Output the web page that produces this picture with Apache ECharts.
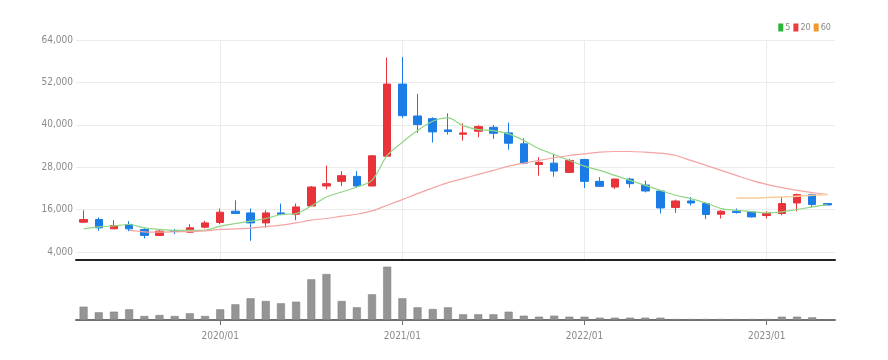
<!DOCTYPE html>
<html><head><meta charset="utf-8">
<script src="https://cdn.jsdelivr.net/npm/echarts@6/dist/echarts.min.js"></script>
<style>html,body{margin:0;padding:0;background:#fff}#c{width:888px;height:360px}</style>
</head><body><div id="c"></div>
<script>
const categories = ['2019/04','2019/05','2019/06','2019/07','2019/08','2019/09','2019/10','2019/11','2019/12',
'2020/01','2020/02','2020/03','2020/04','2020/05','2020/06','2020/07','2020/08','2020/09','2020/10','2020/11','2020/12',
'2021/01','2021/02','2021/03','2021/04','2021/05','2021/06','2021/07','2021/08','2021/09','2021/10','2021/11','2021/12',
'2022/01','2022/02','2022/03','2022/04','2022/05','2022/06','2022/07','2022/08','2022/09','2022/10','2022/11','2022/12',
'2023/01','2023/02','2023/03','2023/04','2023/05'];
const openP  = [12450,13210,10560,11800,10390,8700,10110,9630,11040,12370,15550,15070,12250,15070,14700,17040,22680,24000,25410,22680,31130,51520,42500,41750,38560,37330,38180,39300,37720,34620,28790,29160,26540,30200,24000,22400,24650,22960,21270,16590,18450,17720,14700,15550,15350,14340,14900,17890,20250,17720];
const closeP = [13210,10850,11520,10560,8700,9920,9830,10850,12250,15270,14900,12250,15070,14600,16760,22400,23350,25610,22680,31240,51520,42590,40060,38000,38090,37720,39490,37610,34790,29160,29350,26900,29920,24000,22590,24650,23350,21270,16480,18450,17890,14620,15550,15180,13940,14900,17720,20250,17440,17330];
const lowP   = [12400,10000,10500,9920,7860,8500,9070,9550,10680,11890,14900,7180,10850,14420,13010,17040,21750,22680,22230,22680,31130,41940,37720,34990,37240,35550,36480,36030,32930,28790,25610,25320,26350,22110,22400,21830,22230,20900,14900,15070,17160,13300,13500,14900,13780,13500,14420,15550,16590,17240];
const highP  = [15830,13780,13010,12730,10850,10200,10560,11890,12820,16310,18650,16310,15830,17720,17720,22680,28420,26900,26900,31420,59010,59210,48700,42120,43240,40420,39860,39970,40620,36200,30850,31800,30280,30280,25210,24800,25040,24200,21470,18850,19580,18000,15830,16310,15550,15550,19580,20540,20540,17890];
const ma5  = [10560,11130,11410,11800,10850,10390,10110,10110,10200,11320,12080,12730,13490,14620,14900,17040,19580,20990,22400,24280,31320,35070,38370,40990,41940,39770,38650,38370,37430,35550,33210,31610,29920,28310,27100,25690,24280,22870,21470,20060,19130,17890,16310,15830,15460,15070,15350,16030,16760,17440];
const ma20 = [null,null,null,10200,9720,9630,9720,9830,10000,10390,10560,10760,11200,11610,12250,13010,13490,14140,14700,15630,17240,18850,20540,22110,23630,24770,25970,27100,28310,29160,29920,30680,31320,31800,32260,32450,32450,32260,31970,31320,29920,28510,27100,25690,24280,23160,22230,21470,20820,20250];
const ma60 = [null,null,null,null,null,null,null,null,null,null,null,null,null,null,null,null,null,null,null,null,null,null,null,null,null,null,null,null,null,null,null,null,null,null,null,null,null,null,null,null,null,null,null,19300,19300,19410,19580,19770,20060,20250];
const volume = [133,77,83,107,40,50,40,67,40,107,157,217,190,167,183,407,460,190,127,257,533,217,127,110,127,57,57,57,83,43,33,43,33,33,23,23,23,23,23,10,10,10,10,10,10,10,33,33,27,5];
const yTicks = [4000,16000,28000,40000,52000,64000];
const legendNames = ['5','20','60'];

const UP = '#e8333b', DOWN = '#1c7ce6';
const FONT = "'Liberation Sans Narrow','DejaVu Sans Condensed','Open Sans Condensed',sans-serif";
const candle = categories.map((c,i)=>[openP[i],closeP[i],lowP[i],highP[i]]);
const isJan = (idx, val) => /\/01$/.test(val);

const chart = echarts.init(document.getElementById('c'), null, {renderer:'canvas'});
chart.setOption({
  animation:false,
  backgroundColor:'#fff',
  legend:{
    right:52, top:18, itemWidth:5, itemHeight:8, itemGap:3,
    icon:'rect',
    textStyle:{color:'#8a8a8a', fontSize:9, fontFamily:FONT, padding:[0,0,0,-3]},
    data:[
      {name:legendNames[0], itemStyle:{color:'#2bb539'}},
      {name:legendNames[1], itemStyle:{color:'#ee3a3a'}},
      {name:legendNames[2], itemStyle:{color:'#f39a2c'}}
    ]
  },
  grid:[
    {left:76, right:53, top:40, bottom:100},
    {left:76, right:53, top:260, bottom:40}
  ],
  xAxis:[
    {type:'category', gridIndex:0, data:categories, boundaryGap:true,
     axisLine:{show:false}, axisTick:{show:false}, axisLabel:{show:false},
     splitLine:{show:true, interval:isJan, alignWithLabel:true, lineStyle:{color:'#ececec', width:1}}},
    {type:'category', gridIndex:1, data:categories, boundaryGap:true, position:'bottom',
     axisLine:{show:true, lineStyle:{color:'#707070', width:2}},
     axisTick:{show:true, alignWithLabel:true, interval:isJan, length:5, lineStyle:{color:'#707070'}},
     axisLabel:{show:true, interval:isJan, color:'#8a8a8a', fontSize:10, fontFamily:FONT, margin:11},
     splitLine:{show:false}},
    {type:'category', gridIndex:1, data:categories, boundaryGap:true, position:'top',
     axisLine:{show:true, lineStyle:{color:'#222', width:2}},
     axisTick:{show:false}, axisLabel:{show:false}, splitLine:{show:false}}
  ],
  yAxis:[
    {type:'value', gridIndex:0, min:1750, max:64000, scale:true,
     axisLine:{show:false}, axisTick:{show:false, customValues:yTicks},
     axisLabel:{customValues:yTicks, color:'#8a8a8a', fontSize:10, fontFamily:FONT, margin:3,
       formatter:v=>Number(v).toLocaleString('en-US')},
     splitLine:{show:true, lineStyle:{color:'#ececec', width:1}}},
    {type:'value', gridIndex:1, min:0, max:600, show:false, splitLine:{show:false}}
  ],
  series:[
    {type:'candlestick', name:'price', xAxisIndex:0, yAxisIndex:0, data:candle, barWidth:8,
     itemStyle:{color:UP, color0:DOWN, borderColor:UP, borderColor0:DOWN, borderWidth:1}},
    {type:'line', name:'5', xAxisIndex:0, yAxisIndex:0, data:ma5, showSymbol:false, smooth:0.3,
     lineStyle:{color:'#8fd683', width:1.2}, itemStyle:{color:'#8fd683'}, z:3},
    {type:'line', name:'20', xAxisIndex:0, yAxisIndex:0, data:ma20, showSymbol:false, smooth:0.3,
     lineStyle:{color:'#f5a3a3', width:1.2}, itemStyle:{color:'#f5a3a3'}, z:3},
    {type:'line', name:'60', xAxisIndex:0, yAxisIndex:0, data:ma60, showSymbol:false, smooth:0.3,
     lineStyle:{color:'#f9cc9c', width:1.5}, itemStyle:{color:'#f9cc9c'}, z:3},
    {type:'bar', name:'vol', xAxisIndex:1, yAxisIndex:1, data:volume, barWidth:8,
     itemStyle:{color:'#959595', borderColor:'#7d7d7d', borderWidth:0.5}}
  ]
});
</script></body></html>
